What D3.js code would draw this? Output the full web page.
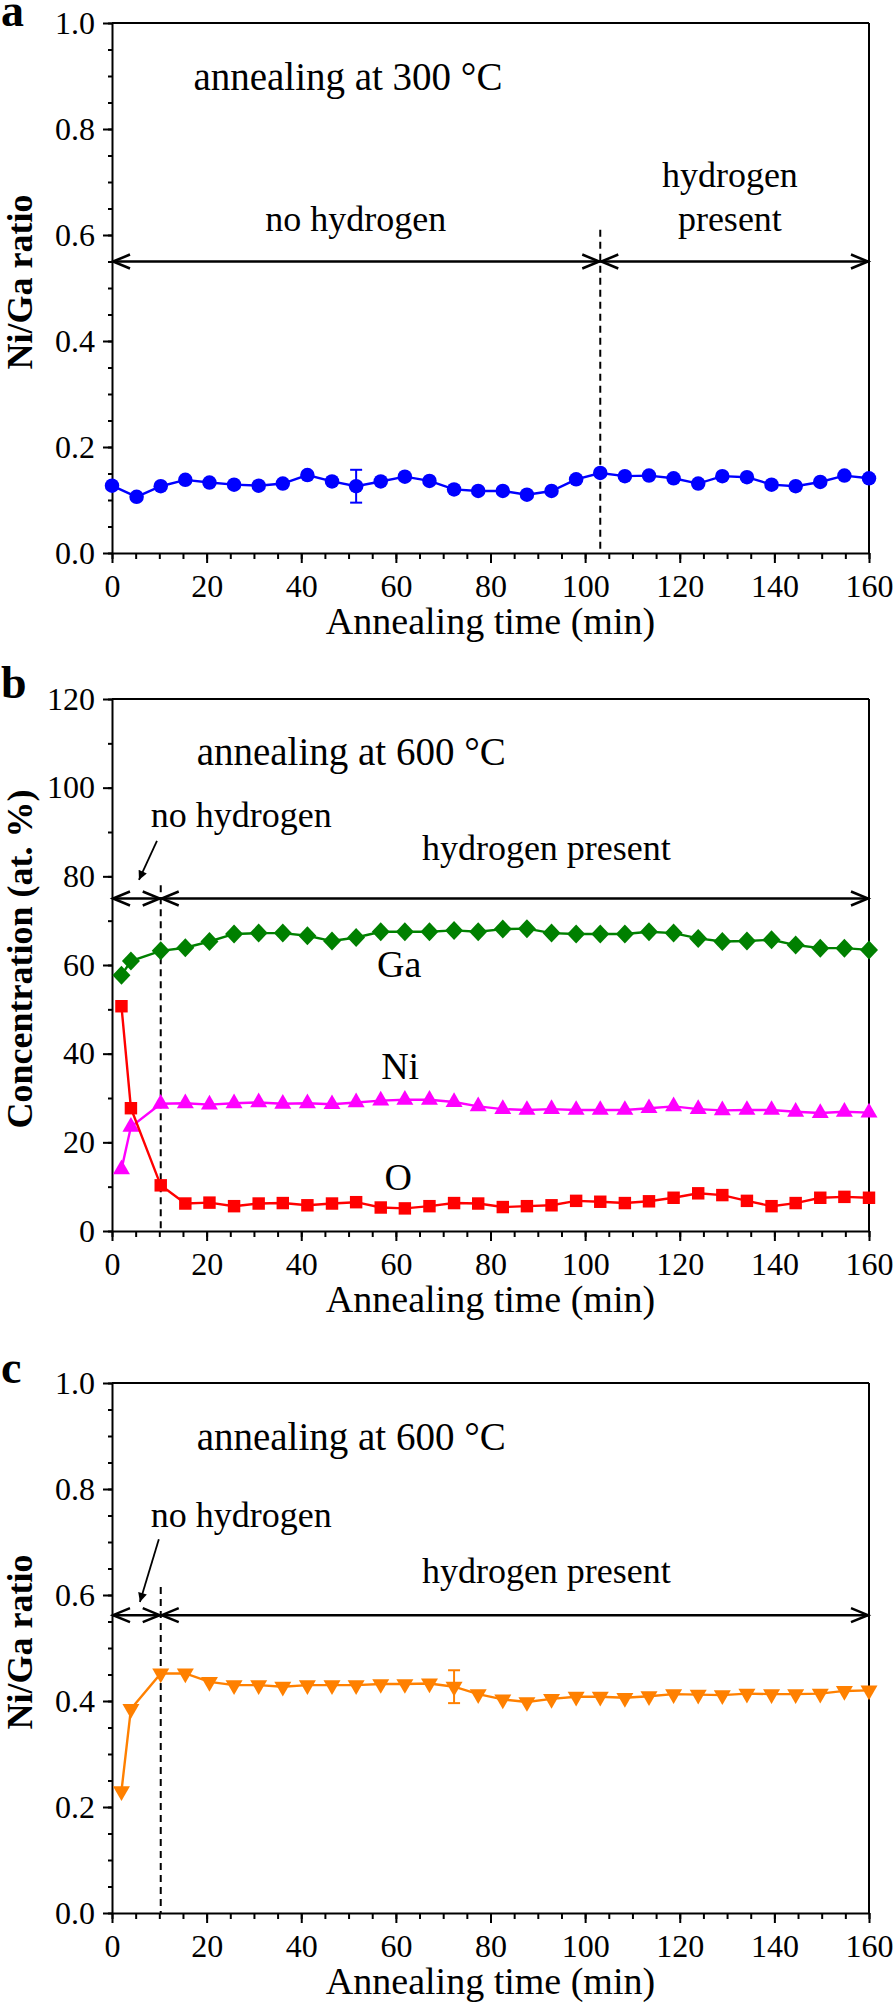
<!DOCTYPE html>
<html><head><meta charset="utf-8">
<script src="https://cdn.jsdelivr.net/npm/d3@7"></script>
<style>body{margin:0;background:#fff}</style>
</head><body>
<svg id="chart" width="895" height="2005"></svg>
<script>
// ---------- data ----------
const timeA = [0,5.2,10.3,15.5,20.6,25.8,31.0,36.1,41.3,46.5,51.6,56.8,61.9,67.1,72.3,77.4,82.6,87.7,92.9,98.1,103.2,108.4,113.5,118.7,123.9,129.0,134.2,139.4,144.5,149.7,154.8,160.0];
const ratioA = [0.127,0.106,0.126,0.138,0.133,0.129,0.127,0.131,0.147,0.135,0.126,0.135,0.144,0.136,0.120,0.117,0.117,0.110,0.117,0.139,0.151,0.145,0.146,0.141,0.131,0.145,0.143,0.129,0.126,0.134,0.146,0.141];
const errA = [{x:51.6, lo:0.095, hi:0.157}];

const timeB = [2,4,10.3,15.5,20.6,25.8,31.0,36.1,41.3,46.5,51.6,56.8,61.9,67.1,72.3,77.4,82.6,87.7,92.9,98.1,103.2,108.4,113.5,118.7,123.9,129.0,134.2,139.4,144.5,149.7,154.8,160.0];
const gaB = [57.7,60.9,63.2,63.9,65.3,67.0,67.2,67.2,66.6,65.4,66.2,67.5,67.5,67.5,67.8,67.5,68.1,68.2,67.2,67.0,67.0,67.0,67.5,67.2,66.0,65.3,65.4,65.7,64.5,63.8,63.8,63.4];
const niB = [13.9,23.5,28.7,28.8,28.5,28.8,29.0,28.7,28.8,28.6,29.0,29.4,29.6,29.6,29.1,28.1,27.5,27.3,27.5,27.3,27.3,27.3,27.7,28.1,27.5,27.2,27.3,27.3,26.9,26.6,26.9,26.7];
const oB = [50.7,27.7,10.3,6.2,6.4,5.6,6.2,6.3,5.8,6.2,6.5,5.3,5.1,5.6,6.3,6.2,5.4,5.6,5.8,6.8,6.6,6.3,6.7,7.5,8.5,8.1,6.8,5.6,6.3,7.5,7.7,7.5];

const timeC = [2,4,10.3,15.5,20.6,25.8,31.0,36.1,41.3,46.5,51.6,56.8,61.9,67.1,72.3,77.4,82.6,87.7,92.9,98.1,103.2,108.4,113.5,118.7,123.9,129.0,134.2,139.4,144.5,149.7,154.8,160.0];
const ratioC = [0.230,0.385,0.452,0.452,0.436,0.430,0.430,0.427,0.430,0.430,0.430,0.432,0.432,0.433,0.427,0.413,0.403,0.398,0.404,0.408,0.408,0.406,0.409,0.413,0.412,0.411,0.414,0.413,0.413,0.414,0.419,0.420];
const errC = [{x:72.3, lo:0.396, hi:0.458}];

const xTickValues = [0,20,40,60,80,100,120,140,160];
const xMinorValues = [0,5,10,15,20,25,30,35,40,45,50,55,60,65,70,75,80,85,90,95,100,105,110,115,120,125,130,135,140,145,150,155,160];
const ratioTicks = [0.0,0.2,0.4,0.6,0.8,1.0];
const ratioMinor = [0,0.05,0.1,0.15,0.2,0.25,0.3,0.35,0.4,0.45,0.5,0.55,0.6,0.65,0.7,0.75,0.8,0.85,0.9,0.95,1.0];
const concTicks = [0,20,40,60,80,100,120];
const concMinor = [0,10,20,30,40,50,60,70,80,90,100,110,120];

// ---------- layout ----------
const svg = d3.select("#chart");
const L = 112, R = 869;
const SERIF = "'Liberation Serif','Times New Roman',serif";
const x = d3.scaleLinear().domain([0,160]).range([L,R]);

const defs = svg.append("defs");
defs.append("marker").attr("id","tipArrow").attr("viewBox","0 0 10 10")
  .attr("refX",10).attr("refY",5).attr("markerWidth",14).attr("markerHeight",9)
  .attr("markerUnits","userSpaceOnUse").attr("orient","auto")
  .append("path").attr("d","M0,0 L10,5 L0,10 Z").attr("fill","#000");

function panel(o){
  const g = svg.append("g");
  const y = d3.scaleLinear().domain(o.yDomain).range([o.bottom,o.top]);
  g.append("line").attr("x1",L).attr("x2",R).attr("y1",o.top).attr("y2",o.top).attr("stroke","#000").attr("stroke-width",2);
  g.append("line").attr("x1",R).attr("x2",R).attr("y1",o.top).attr("y2",o.bottom).attr("stroke","#000").attr("stroke-width",2);
  g.append("g").attr("transform",`translate(0,${o.bottom})`)
    .call(d3.axisBottom(x).tickValues(xMinorValues).tickSize(6).tickSizeOuter(0).tickFormat(""))
    .call(s=>s.select(".domain").remove())
    .call(s=>s.selectAll("line").attr("stroke-width",2));
  g.append("g").attr("transform",`translate(0,${o.bottom})`)
    .call(d3.axisBottom(x).tickValues(xTickValues).tickSize(10).tickSizeOuter(0).tickPadding(11).tickFormat(d3.format("d")))
    .call(s=>s.select(".domain").attr("stroke-width",2))
    .call(s=>s.selectAll("line").attr("stroke-width",2))
    .call(s=>s.selectAll("text").attr("font-family",SERIF).attr("font-size",32).attr("fill","#000"));
  g.append("g").attr("transform",`translate(${L},0)`)
    .call(d3.axisLeft(y).tickValues(o.yMinor).tickSize(4).tickSizeOuter(0).tickFormat(""))
    .call(s=>s.select(".domain").remove())
    .call(s=>s.selectAll("line").attr("stroke-width",2));
  g.append("g").attr("transform",`translate(${L},0)`)
    .call(d3.axisLeft(y).tickValues(o.yTicks).tickSize(9).tickSizeOuter(0).tickPadding(8).tickFormat(o.fmt))
    .call(s=>s.select(".domain").attr("stroke-width",2))
    .call(s=>s.selectAll("line").attr("stroke-width",2))
    .call(s=>s.selectAll("text").attr("font-family",SERIF).attr("font-size",32).attr("fill","#000"));
  g.append("text").attr("x",(L+R)/2).attr("y",o.bottom+81).attr("text-anchor","middle")
    .attr("font-family",SERIF).attr("font-size",38).text("Annealing time (min)");
  g.append("text").attr("transform",`translate(32,${(o.top+o.bottom)/2 - 6}) rotate(-90)`)
    .attr("text-anchor","middle").attr("font-family",SERIF).attr("font-weight","bold")
    .attr("font-size",36).text(o.ylabel);
  g.append("text").attr("x",1).attr("y",o.letterY).attr("font-family",SERIF).attr("font-weight","bold")
    .attr("font-size",46).text(o.letter);
  return {g,y};
}

function dashed(g,y,xv,y0,y1){
  g.append("line").attr("x1",x(xv)).attr("x2",x(xv)).attr("y1",y(y0)).attr("y2",y(y1))
    .attr("stroke","#000").attr("stroke-width",2).attr("stroke-dasharray","7,5");
}
function dblArrow(g,y,x0,x1,yv){
  const px0=x(x0), px1=x(x1), py=y(yv);
  g.append("line").attr("x1",px0).attr("x2",px1).attr("y1",py).attr("y2",py).attr("stroke","#000").attr("stroke-width",2.5);
  const hl=18, hw=7;
  g.append("path").attr("d",`M${px0+hl},${py-hw} L${px0+1},${py} L${px0+hl},${py+hw}`)
    .attr("fill","none").attr("stroke","#000").attr("stroke-width",2.5);
  g.append("path").attr("d",`M${px1-hl},${py-hw} L${px1-1},${py} L${px1-hl},${py+hw}`)
    .attr("fill","none").attr("stroke","#000").attr("stroke-width",2.5);
}
function label(g,y,xv,yv,txt,anchor,size){
  g.append("text").attr("x",x(xv)).attr("y",y(yv)).attr("text-anchor",anchor||"start")
    .attr("font-family",SERIF).attr("font-size",size||36).text(txt);
}
function pointer(g,y,xa,ya,xb,yb){
  g.append("line").attr("x1",x(xa)).attr("y1",y(ya)).attr("x2",x(xb)).attr("y2",y(yb))
    .attr("stroke","#000").attr("stroke-width",1.8).attr("marker-end","url(#tipArrow)");
}
const diamond = d3.symbol().type({draw(ctx){ctx.moveTo(0,-9.5);ctx.lineTo(9,0);ctx.lineTo(0,9.5);ctx.lineTo(-9,0);ctx.closePath();}})();
function series(g,y,xs,ys,color,shape){
  const pts = xs.map((d,i)=>[d,ys[i]]);
  g.append("path").datum(pts).attr("fill","none").attr("stroke",color).attr("stroke-width",2.4)
    .attr("d",d3.line().x(d=>x(d[0])).y(d=>y(d[1])));
  let sym, rot=0;
  if(shape==="circle") sym=d3.symbol().type(d3.symbolCircle).size(165)();
  else if(shape==="square") sym=d3.symbol().type(d3.symbolSquare).size(155)();
  else if(shape==="diamond") sym=diamond;
  else if(shape==="tri") sym=d3.symbol().type(d3.symbolTriangle).size(125)();
  else if(shape==="triDown"){ sym=d3.symbol().type(d3.symbolTriangle).size(125)(); rot=180; }
  g.selectAll(null).data(pts).enter().append("path").attr("d",sym).attr("fill",color)
    .attr("transform",d=>`translate(${x(d[0])},${y(d[1])}) rotate(${rot})`);
}
function errBars(g,y,errs,color){
  errs.forEach(e=>{
    g.append("line").attr("x1",x(e.x)).attr("x2",x(e.x)).attr("y1",y(e.lo)).attr("y2",y(e.hi)).attr("stroke",color).attr("stroke-width",2);
    [e.lo,e.hi].forEach(v=>g.append("line").attr("x1",x(e.x)-6).attr("x2",x(e.x)+6).attr("y1",y(v)).attr("y2",y(v)).attr("stroke",color).attr("stroke-width",2));
  });
}

// ---------- panel a ----------
{
  const {g,y} = panel({top:23,bottom:553,yDomain:[0,1],yTicks:ratioTicks,yMinor:ratioMinor,fmt:d3.format(".1f"),ylabel:"Ni/Ga ratio",letter:"a",letterY:26});
  label(g,y,17.2,0.874,"annealing at 300 °C","start",39);
  label(g,y,51.5,0.608,"no hydrogen","middle");
  label(g,y,130.6,0.691,"hydrogen","middle");
  label(g,y,130.6,0.608,"present","middle");
  dashed(g,y,103.2,0.61,0);
  dblArrow(g,y,0,103.2,0.55);
  dblArrow(g,y,103.2,160,0.55);
  series(g,y,timeA,ratioA,"#0000FF","circle");
  errBars(g,y,errA,"#0000FF");
}
// ---------- panel b ----------
{
  const {g,y} = panel({top:699,bottom:1231,yDomain:[0,120],yTicks:concTicks,yMinor:concMinor,fmt:d3.format("d"),ylabel:"Concentration (at. %)",letter:"b",letterY:698});
  label(g,y,17.9,105.1,"annealing at 600 °C","start",39);
  label(g,y,8.2,91.1,"no hydrogen");
  label(g,y,65.5,83.7,"hydrogen present");
  pointer(g,y,9.5,88.0,5.7,79.2);
  dashed(g,y,10.3,78,0);
  dblArrow(g,y,0,10.3,75);
  dblArrow(g,y,10.3,160,75);
  series(g,y,timeB,gaB,"#008000","diamond");
  series(g,y,timeB,niB,"#FF00FF","tri");
  series(g,y,timeB,oB,"#FF0000","square");
  label(g,y,60.7,57.4,"Ga","middle",38);
  label(g,y,60.9,34.2,"Ni","middle",38);
  label(g,y,60.5,9.2,"O","middle",38);
}
// ---------- panel c ----------
{
  const {g,y} = panel({top:1383,bottom:1913,yDomain:[0,1],yTicks:ratioTicks,yMinor:ratioMinor,fmt:d3.format(".1f"),ylabel:"Ni/Ga ratio",letter:"c",letterY:1383});
  label(g,y,17.9,0.874,"annealing at 600 °C","start",39);
  label(g,y,8.2,0.728,"no hydrogen");
  label(g,y,65.5,0.623,"hydrogen present");
  pointer(g,y,9.9,0.705,5.9,0.587);
  dashed(g,y,10.3,0.615,0);
  dblArrow(g,y,0,10.3,0.562);
  dblArrow(g,y,10.3,160,0.562);
  series(g,y,timeC,ratioC,"#FF8000","triDown");
  errBars(g,y,errC,"#FF8000");
}
</script>
</body></html>
